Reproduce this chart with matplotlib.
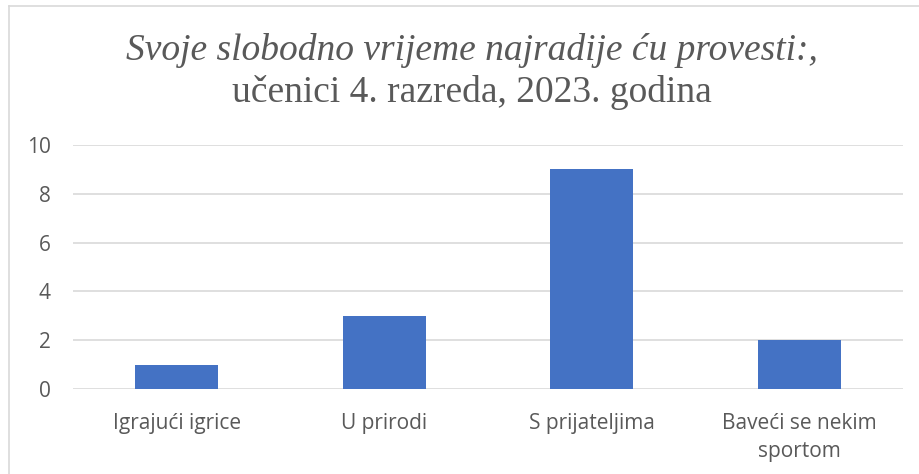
import matplotlib
matplotlib.use("Agg")
import matplotlib.pyplot as plt
from matplotlib.lines import Line2D

categories = ["Igrajući igrice", "U prirodi", "S prijateljima", "Baveći se nekim\nsportom"]
values = [1, 3, 9, 2]
yticks = [0, 2, 4, 6, 8, 10]
title_line1 = "Svoje slobodno vrijeme najradije ću provesti:,"
title_line2 = "učenici 4. razreda, 2023. godina"

W, H = 920, 474
fig = plt.figure(figsize=(W / 100, H / 100), dpi=100)
fig.patch.set_facecolor("white")

ax = fig.add_axes([73 / W, 1 - 389 / H, (903 - 73) / W, (389 - 145) / H])
x = list(range(len(categories)))
ax.bar(x, values, width=0.4, color="#4472C4", zorder=3)
ax.set_xlim(-0.5, len(categories) - 0.5)
ax.set_ylim(0, 10)
ax.set_yticks(yticks)
ax.set_yticklabels([str(t) for t in yticks])
ax.set_xticks(x)
ax.set_xticklabels(categories, linespacing=1.45)
for s in ax.spines.values():
    s.set_visible(False)
ax.grid(axis="y", color="#D9D9D9", linewidth=1.2, zorder=0)
ax.tick_params(axis="both", length=0, colors="#595959", labelsize=15)
ax.tick_params(axis="y", pad=16)
ax.tick_params(axis="x", pad=17)
for lab in ax.get_xticklabels() + ax.get_yticklabels():
    lab.set_family(["Open Sans", "DejaVu Sans"])
    lab.set_color("#595959")
ax.set_facecolor("white")

fig.text(0.513, 1 - 60 / H, title_line1, ha="center", va="baseline",
         family="Liberation Serif", style="italic", fontsize=27, color="#595959")
fig.text(0.513, 1 - 102 / H, title_line2, ha="center", va="baseline",
         family="Liberation Serif", fontsize=27, color="#595959")

# outer chart border (left and top visible)
fig.add_artist(Line2D([8.5 / W, 8.5 / W], [0, 1 - 6 / H], transform=fig.transFigure,
                      color="#D9D9D9", linewidth=1.2))
fig.add_artist(Line2D([8.5 / W, 1], [1 - 6 / H, 1 - 6 / H], transform=fig.transFigure,
                      color="#D9D9D9", linewidth=1.2))

fig.savefig("out.png", dpi=100, facecolor="white")
